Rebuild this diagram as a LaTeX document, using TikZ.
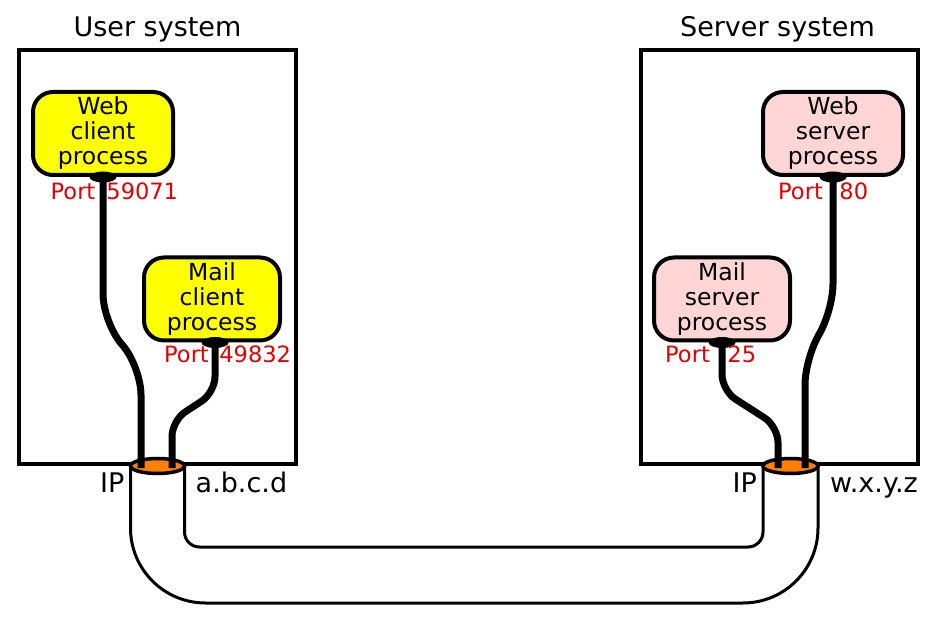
\documentclass[tikz,border=0pt]{standalone}
\usepackage{fontspec}
\setmainfont{DejaVu Sans}
\usetikzlibrary{positioning,shapes.geometric,calc}
\definecolor{procyellow}{RGB}{255,255,0}
\definecolor{procpink}{RGB}{255,213,213}
\definecolor{iporange}{RGB}{255,128,0}
\definecolor{portred}{RGB}{225,0,0}
\begin{document}
\begin{tikzpicture}[x=1pt,y=-1pt,
		sysbox/.style={draw,line width=3.5pt,minimum width=277pt,minimum height=414pt,inner sep=0pt},
		title/.style={font=\fontsize{27}{30}\selectfont,inner sep=0pt},
		proc/.style={draw,line width=4pt,rounded corners=20pt,minimum width=140pt,minimum height=83pt,align=center,font=\fontsize{23.5}{25}\selectfont,inner sep=0pt},
		sock/.style={ellipse,fill=black,minimum width=27pt,minimum height=11pt,inner sep=0pt,outer sep=0pt},
		ipsock/.style={ellipse,draw,line width=3.5pt,fill=iporange,minimum width=54pt,minimum height=15pt,inner sep=0pt,outer sep=0pt},
		wire/.style={line width=7pt},
		pipe/.style={line width=3pt},
		portlbl/.style={text=portred,font=\fontsize{22.5}{25}\selectfont,inner sep=0pt,anchor=base west},
		iplbl/.style={font=\fontsize{27}{30}\selectfont,inner sep=0pt}]
			\useasboundingbox (0,0) rectangle (937,617);
			% Systems
			\node[sysbox] (usersys) at (157.5,257) {};
			\node[sysbox] (serversys) at (779.5,257) {};
			\node[title,above=6pt of usersys] (usertitle) {User system};
			\node[title,above=6pt of serversys,xshift=-2pt] (servertitle) {Server system};
			% Processes
			\node[proc,fill=procyellow] (wclient) at (103,133.5) {Web\\client\\process};
			\node[proc,fill=procyellow,minimum width=136pt] (mclient) at (212,299) {Mail\\client\\process};
			\node[proc,fill=procpink] (wserver) at (833,133.5) {Web\\server\\process};
			\node[proc,fill=procpink,minimum width=136pt] (mserver) at (722,299) {Mail\\server\\process};
			\node[sock] (wcsock) at (wclient.south) {};
			\node[sock] (mcsock) at ($(mclient.south)+(3,0)$) {};
			\node[sock] (wssock) at (wserver.south) {};
			\node[sock] (mssock) at (mserver.south) {};
			% Ports
			\node[portlbl] (wcport) at (50.5,200) {Port\hspace{4pt} 59071};
			\node[portlbl] (mcport) at (164,363) {Port\hspace{3.5pt} 49832};
			\node[portlbl] (wsport) at (778,200) {Port\hspace{9.5pt} 80};
			\node[portlbl] (msport) at (665,363) {Port\hspace{10.5pt} 25};
			% IP and pipe
			\node[ipsock] (ipuser) at (157.5,466) {};
			\node[ipsock,minimum width=55pt] (ipserver) at (790.5,466) {};
			\draw[pipe,rounded corners=75pt] (ipuser.west) -- (ipuser.west |- 0,603) -- (ipserver.east |- 0,603) -- (ipserver.east);
			\draw[pipe,rounded corners=15pt] (ipuser.east) -- (ipuser.east |- 0,547) -- (ipserver.west |- 0,547) -- (ipserver.west);
			\node[iplbl,anchor=base east] (ipulbl) at ($(ipuser.west)+(-6,26)$) {IP};
			\node[iplbl,anchor=base west] (ipuaddr) at ($(ipuser.east)+(11,26)$) {a.b.c.d};
			\node[iplbl,anchor=base east] (ipslbl) at ($(ipserver.west)+(-6,26)$) {IP};
			\node[iplbl,anchor=base west] (ipsaddr) at ($(ipserver.east)+(12,26)$) {w.x.y.z};
			% Wires
			\draw[wire,rounded corners=28pt] (wcsock.center) -- ++(0,145) -- ++(38,45) -- ($(ipuser.center)+(-16.5,2)$);
			\draw[wire,rounded corners=16pt] (mcsock.center) -- ++(0,50) -- ++(-43,28) -- ($(ipuser.center)+(14.5,2)$);
			\draw[wire,rounded corners=28pt] (wssock.center) -- ++(0,135) -- ++(-28,45) -- ($(ipserver.center)+(14.5,2)$);
			\draw[wire,rounded corners=16pt] (mssock.center) -- ++(0,48) -- ++(56,36) -- ($(ipserver.center)+(-12.5,2)$);
\end{tikzpicture}
\end{document}
